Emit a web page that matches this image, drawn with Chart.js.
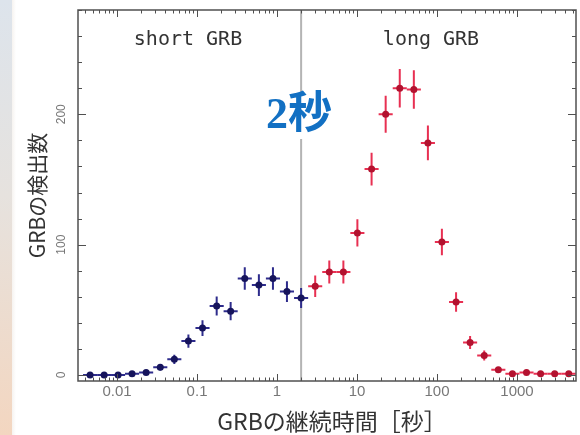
<!DOCTYPE html>
<html>
<head>
<meta charset="utf-8">
<script src="https://cdn.jsdelivr.net/npm/chart.js@4/dist/chart.umd.min.js"></script>
<style>
  html, body { margin: 0; padding: 0; background: #ffffff; }
  #wrap { position: relative; width: 580px; height: 435px; overflow: hidden; }
  #strip { position: absolute; left: 0; top: 0; width: 12px; height: 435px;
           background: linear-gradient(to bottom, #dde4ec 0%, #e6e2de 45%, #f3d6c0 100%); }
  #strip:after { content: ""; position: absolute; right: -4px; top: 0; width: 4px; height: 100%;
           background: linear-gradient(to right, rgba(240,235,230,0.6), rgba(255,255,255,0)); }
  canvas { position: absolute; left: 0; top: 0; }
</style>
</head>
<body>
<div id="wrap">
  <div id="strip"></div>
  <canvas id="c" width="580" height="435"></canvas>
</div>
<script>
// Burst durations (s) and number of detected bursts, short population
const shortDur   = [0.0046, 0.0069, 0.0103, 0.0154, 0.0231, 0.0347, 0.052, 0.078, 0.117, 0.176, 0.263, 0.395, 0.593, 0.889, 1.33, 2.0];
const shortCount = [0, 0, 0, 1, 2, 6, 12, 26, 36, 53, 49, 74, 69, 74, 64, 59];

// Long population
const longDur   = [3.0, 4.5, 6.75, 10.1, 15.2, 22.8, 34.2, 51.3, 76.9, 115, 173, 259, 389, 584, 876, 1314, 1971, 2956, 4434];
const longCount = [68, 79, 79, 109, 158, 200, 220, 219, 178, 102, 56, 25, 15, 4, 1, 2, 1, 1, 1];

// Axis ticks
const xTickValues = [0.01, 0.1, 1, 10, 100, 1000];
const xTickLabels = ['0.01', '0.1', '1', '10', '100', '1000'];
const yTickValues = [0, 100, 200];
const yTickLabels = ['0', '100', '200'];
const yMinorStep = 20;

// Dividing duration between the two populations
const splitDuration = 2;

// Half-width of a logarithmic duration bin, as a ratio
const binHalfRatio = 1.2247;

const colors = {
  shortFill: '#16145c', shortBar: '#2e2c8c',
  longFill: '#b3122f', longBar: '#e83052',
  frame: '#505050', tickText: '#777777', title: '#333333',
  split: '#b4b4b4', note: '#1270c3'
};

function toPoints(xs, ys) { return xs.map((x, i) => ({ x: x, y: ys[i] })); }

const errorBars = {
  id: 'errorBars',
  beforeDatasetsDraw(chart) {
    const ctx = chart.ctx, xs = chart.scales.x, ys = chart.scales.y, a = chart.chartArea;
    ctx.save();
    // vertical line at 2 s
    const sx = xs.getPixelForValue(splitDuration);
    ctx.strokeStyle = colors.split; ctx.lineWidth = 2;
    ctx.beginPath(); ctx.moveTo(sx, a.top); ctx.lineTo(sx, a.bottom); ctx.stroke();

    chart.data.datasets.forEach((ds) => {
      ctx.strokeStyle = ds.barColor; ctx.lineWidth = 2;
      ds.data.forEach((p) => {
        const px = xs.getPixelForValue(p.x), py = ys.getPixelForValue(p.y);
        const err = Math.sqrt(p.y);
        const y1 = ys.getPixelForValue(p.y - err), y2 = ys.getPixelForValue(p.y + err);
        const x1 = xs.getPixelForValue(p.x / binHalfRatio), x2 = xs.getPixelForValue(p.x * binHalfRatio);
        ctx.beginPath();
        ctx.moveTo(px, Math.min(y1, a.bottom)); ctx.lineTo(px, y2);
        ctx.moveTo(x1, py); ctx.lineTo(x2, py);
        ctx.stroke();
      });
    });
    ctx.restore();
  },
  afterDatasetsDraw(chart) {
    const ctx = chart.ctx, xs = chart.scales.x, ys = chart.scales.y, a = chart.chartArea;
    ctx.save();
    // frame
    ctx.strokeStyle = colors.frame; ctx.lineWidth = 1.5;
    ctx.strokeRect(a.left, a.top, a.right - a.left, a.bottom - a.top);

    // log ticks on bottom and top, pointing inward
    ctx.lineWidth = 1;
    const lo = Math.floor(Math.log10(xs.min)), hi = Math.ceil(Math.log10(xs.max));
    for (let e = lo; e <= hi; e++) {
      for (let k = 1; k <= 9; k++) {
        const v = k * Math.pow(10, e);
        if (v < xs.min || v > xs.max) continue;
        const px = Math.round(xs.getPixelForValue(v)) + 0.5;
        const len = k === 1 ? 7 : 3.5;
        ctx.beginPath();
        ctx.moveTo(px, a.bottom); ctx.lineTo(px, a.bottom - len);
        ctx.moveTo(px, a.top); ctx.lineTo(px, a.top + len);
        ctx.stroke();
      }
    }
    // linear ticks on left and right, pointing inward
    for (let v = 0; v <= ys.max; v += yMinorStep) {
      const py = Math.round(ys.getPixelForValue(v)) + 0.5;
      const len = v % 100 === 0 ? 8 : 4;
      ctx.beginPath();
      ctx.moveTo(a.left, py); ctx.lineTo(a.left + len, py);
      ctx.moveTo(a.right, py); ctx.lineTo(a.right - len, py);
      ctx.stroke();
    }

    // tick labels
    ctx.fillStyle = colors.tickText;
    ctx.font = '15px "Liberation Sans", Arial, sans-serif';
    ctx.textAlign = 'center'; ctx.textBaseline = 'middle';
    xTickValues.forEach((v, i) => {
      ctx.fillText(xTickLabels[i], xs.getPixelForValue(v), a.bottom + 11);
    });
    ctx.font = '12px "Liberation Sans", Arial, sans-serif';
    yTickValues.forEach((v, i) => {
      ctx.save();
      ctx.translate(a.left - 16, ys.getPixelForValue(v));
      ctx.rotate(-Math.PI / 2);
      ctx.fillText(yTickLabels[i], 0, 0);
      ctx.restore();
    });

    // axis titles
    ctx.fillStyle = colors.title;
    ctx.font = '23px "Noto Sans CJK JP", sans-serif';
    ctx.fillText('GRBの継続時間［秒］', (a.left + a.right) / 2 + 5, 421);
    ctx.save();
    ctx.translate(37, (a.top + a.bottom) / 2);
    ctx.rotate(-Math.PI / 2);
    ctx.font = '21px "Noto Sans CJK JP", sans-serif';
    ctx.fillText('GRBの検出数', 0, 0);
    ctx.restore();

    // population labels
    ctx.font = '20px "DejaVu Sans Mono", monospace';
    ctx.fillStyle = '#333333';
    ctx.fillText('short GRB', 188, 40);
    ctx.fillText('long GRB', 431, 40);

    // 2 s marker
    const cx = xs.getPixelForValue(splitDuration) - 2;
    ctx.fillStyle = '#ffffff';
    ctx.fillRect(cx - 36, 93, 72, 46);
    ctx.fillStyle = colors.note;
    ctx.font = 'bold 44px "Liberation Serif", "Noto Sans CJK JP", serif';
    ctx.fillText('2秒', cx, 117);
    ctx.restore();
  }
};

new Chart(document.getElementById('c'), {
  type: 'scatter',
  data: {
    datasets: [
      { label: 'short GRB', data: toPoints(shortDur, shortCount),
        pointRadius: 3.5, pointBackgroundColor: colors.shortFill, pointBorderColor: colors.shortFill,
        pointBorderWidth: 0, barColor: colors.shortBar },
      { label: 'long GRB', data: toPoints(longDur, longCount),
        pointRadius: 3.5, pointBackgroundColor: colors.longFill, pointBorderColor: colors.longFill,
        pointBorderWidth: 0, barColor: colors.longBar }
    ]
  },
  options: {
    responsive: false,
    animation: false,
    devicePixelRatio: 1,
    layout: { padding: { left: 78, right: 4, top: 10, bottom: 54 } },
    plugins: { legend: { display: false }, tooltip: { enabled: false } },
    scales: {
      x: { type: 'logarithmic', min: 0.00325, max: 5460, display: false },
      y: { type: 'linear', min: -4.6, max: 280, display: false }
    }
  },
  plugins: [errorBars]
});
</script>
</body>
</html>
